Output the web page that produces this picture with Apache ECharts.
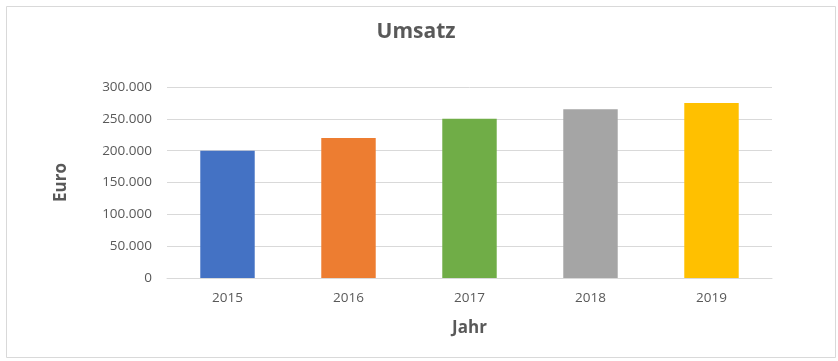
<!DOCTYPE html>
<html>
<head>
<meta charset="utf-8">
<script src="https://cdn.jsdelivr.net/npm/echarts@6/dist/echarts.min.js"></script>
<style>html,body{margin:0;padding:0;background:#fff}#c{width:838px;height:361px}</style>
</head>
<body>
<div id="c"></div>
<script>
var categories = ['2015', '2016', '2017', '2018', '2019'];
var values = [200000, 220000, 250000, 265000, 275000];
var barColors = ['#4472C4', '#ED7D31', '#70AD47', '#A5A5A5', '#FFC000'];

var chart = echarts.init(document.getElementById('c'), null, {renderer: 'canvas'});
var FONT = 'Open Sans';
chart.setOption({
  animation: false,
  backgroundColor: '#fff',
  graphic: [{
    type: 'rect', left: 4, top: 4,
    shape: {width: 829, height: 351},
    style: {fill: 'none', stroke: '#d9d9d9', lineWidth: 1}, silent: true
  }],
  title: {
    text: 'Umsatz', left: 411, top: 17, textAlign: 'center',
    textStyle: {fontFamily: FONT, fontSize: 21, fontWeight: 'bold', color: '#595959'}
  },
  grid: {left: 167, right: 66, top: 87, bottom: 83},
  xAxis: {
    type: 'category', data: categories,
    name: 'Jahr', nameLocation: 'middle', nameGap: 42,
    nameTextStyle: {fontFamily: FONT, fontSize: 17, fontWeight: 'bold', color: '#595959'},
    axisLine: {lineStyle: {color: '#d9d9d9'}},
    axisTick: {show: false},
    axisLabel: {fontFamily: FONT, fontSize: 13.5, color: '#595959', margin: 13}
  },
  yAxis: {
    type: 'value', min: 0, max: 300000, interval: 50000,
    name: 'Euro', nameLocation: 'middle', nameGap: 97, nameRotate: 90,
    nameTextStyle: {fontFamily: FONT, fontSize: 17, fontWeight: 'bold', color: '#595959'},
    axisLine: {show: false}, axisTick: {show: false},
    splitLine: {lineStyle: {color: '#d9d9d9'}},
    axisLabel: {
      fontFamily: FONT, fontSize: 13.5, color: '#595959', margin: 15,
      formatter: function (v) { return v.toString().replace(/\B(?=(\d{3})+(?!\d))/g, '.'); }
    }
  },
  series: [{
    type: 'bar', barWidth: '45%',
    data: values.map(function (v, i) { return {value: v, itemStyle: {color: barColors[i]}}; })
  }]
});
</script>
</body>
</html>
